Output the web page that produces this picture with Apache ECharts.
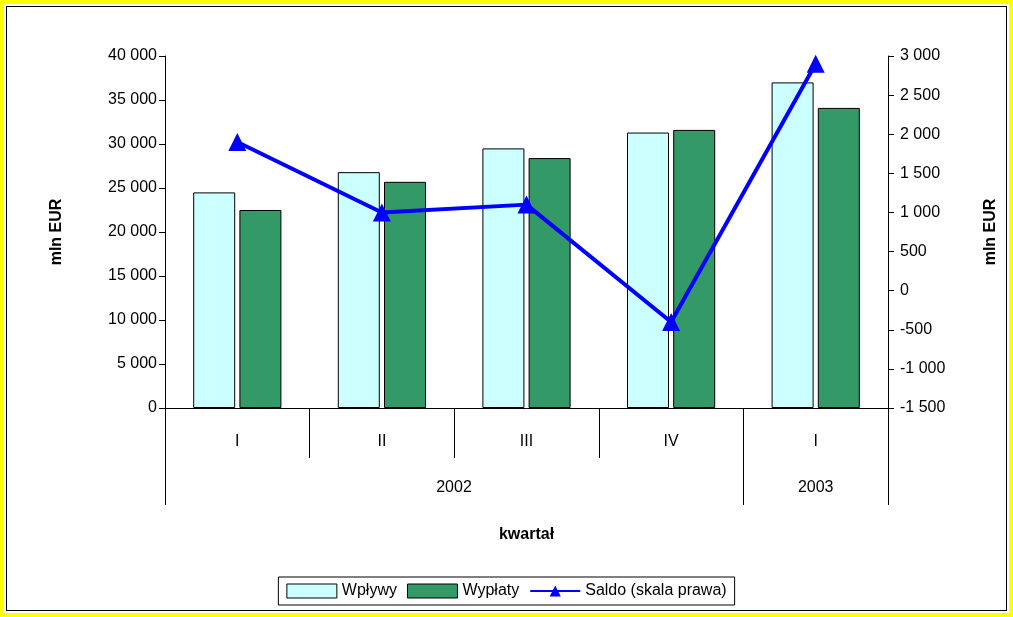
<!DOCTYPE html>
<html><head><meta charset="utf-8">
<script src="https://cdn.jsdelivr.net/npm/echarts@6/dist/echarts.min.js"></script>
<style>
html,body{margin:0;padding:0;background:#fff}
#frame{position:absolute;left:0;top:0;width:1005px;height:609px;border:4px solid #ffff00}
#inner{position:absolute;left:2px;top:2px;right:2px;bottom:2px;border:1px solid #000}
#chart{position:absolute;left:0;top:0;width:1013px;height:617px}
</style></head>
<body>
<div id="frame"><div id="inner"></div></div>
<div id="chart"></div>
<script>
// dane
const kwartaly = ['I', 'II', 'III', 'IV', 'I'];
const lata = ['', '', '2002', '', '2003'];
const wplywy = [24500, 26800, 29500, 31300, 37000];
const wyplaty = [22500, 25700, 28400, 31600, 34100];
const saldo = [1900, 1000, 1100, -400, 2900];

const fmt = v => String(v).replace(/\B(?=(\d{3})+(?!\d))/g, ' ');
const font = 'Liberation Sans, Arial, sans-serif';

const myChart = echarts.init(document.getElementById('chart'));
const option = {
  textStyle: { fontFamily: font, color: '#000' },
  animation: false,
  grid: [
    { left: 165, right: 125, top: 56, bottom: 209 },
    { left: 165, right: 125, top: 56, bottom: 209 }
  ],
  legend: {
    bottom: 12, left: 'center',
    borderColor: '#000', borderWidth: 1, padding: [6, 8],
    itemWidth: 50, itemHeight: 14, itemGap: 10,
    textStyle: { fontSize: 16, fontFamily: font, color: '#000' },
    data: [
      { name: 'Wpływy', icon: 'rect', itemStyle: { borderColor: '#000', borderWidth: 1 } },
      { name: 'Wypłaty', icon: 'rect', itemStyle: { borderColor: '#000', borderWidth: 1 } },
      { name: 'Saldo (skala prawa)' }
    ]
  },
  xAxis: [{
    type: 'category', data: kwartaly, position: 'bottom', gridIndex: 0,
    axisLine: { show: true, lineStyle: { color: '#000' } },
    axisTick: { show: true, interval: 0, length: 50, lineStyle: { color: '#000' } },
    axisLabel: { fontSize: 16, margin: 26, color: '#000' }
  }, {
    type: 'category', position: 'bottom', gridIndex: 1,
    data: lata.map((v, i) => i === 2 ? { value: v, textStyle: { padding: [0, 145, 0, 0] } } : v),
    axisLine: { show: false },
    splitLine: { show: false },
    axisTick: { show: true, interval: i => i === 0 || i === 4, length: 97, lineStyle: { color: '#000' } },
    axisLabel: { interval: 0, fontSize: 16, margin: 72, color: '#000' },
    name: 'kwartał', nameLocation: 'middle', nameGap: 119,
    nameTextStyle: { fontSize: 16, fontWeight: 'bold', color: '#000' }
  }],
  yAxis: [{
    type: 'value', min: 0, max: 40000, interval: 5000, gridIndex: 0,
    name: 'mln EUR', nameLocation: 'middle', nameGap: 100,
    nameTextStyle: { fontSize: 16, fontWeight: 'bold', color: '#000' },
    axisLine: { show: true, lineStyle: { color: '#000' } },
    axisTick: { show: true, length: 6, lineStyle: { color: '#000' } },
    splitLine: { show: false },
    axisLabel: { fontSize: 16, color: '#000', formatter: fmt }
  }, {
    type: 'value', min: -1500, max: 3000, interval: 500, gridIndex: 0,
    name: 'mln EUR', nameLocation: 'middle', nameGap: 95, nameRotate: 90,
    nameTextStyle: { fontSize: 16, fontWeight: 'bold', color: '#000' },
    axisLine: { show: true, lineStyle: { color: '#000' } },
    axisTick: { show: true, length: 6, lineStyle: { color: '#000' } },
    splitLine: { show: false },
    axisLabel: { fontSize: 16, color: '#000', margin: 12, formatter: fmt }
  }, {
    type: 'value', gridIndex: 1, show: false
  }],
  series: [{
    name: 'Wpływy', type: 'bar', data: wplywy, barWidth: 42, barGap: '10%',
    itemStyle: { color: '#ccffff', borderColor: '#000', borderWidth: 1 }
  }, {
    name: 'Wypłaty', type: 'bar', data: wyplaty, barWidth: 42,
    itemStyle: { color: '#339966', borderColor: '#000', borderWidth: 1 }
  }, {
    name: 'Saldo (skala prawa)', type: 'line', yAxisIndex: 1, data: saldo,
    symbol: 'triangle', symbolSize: 18,
    lineStyle: { color: '#0000ff', width: 4 },
    itemStyle: { color: '#0000ff' }
  }]
};
myChart.setOption(option);
</script>
</body></html>
